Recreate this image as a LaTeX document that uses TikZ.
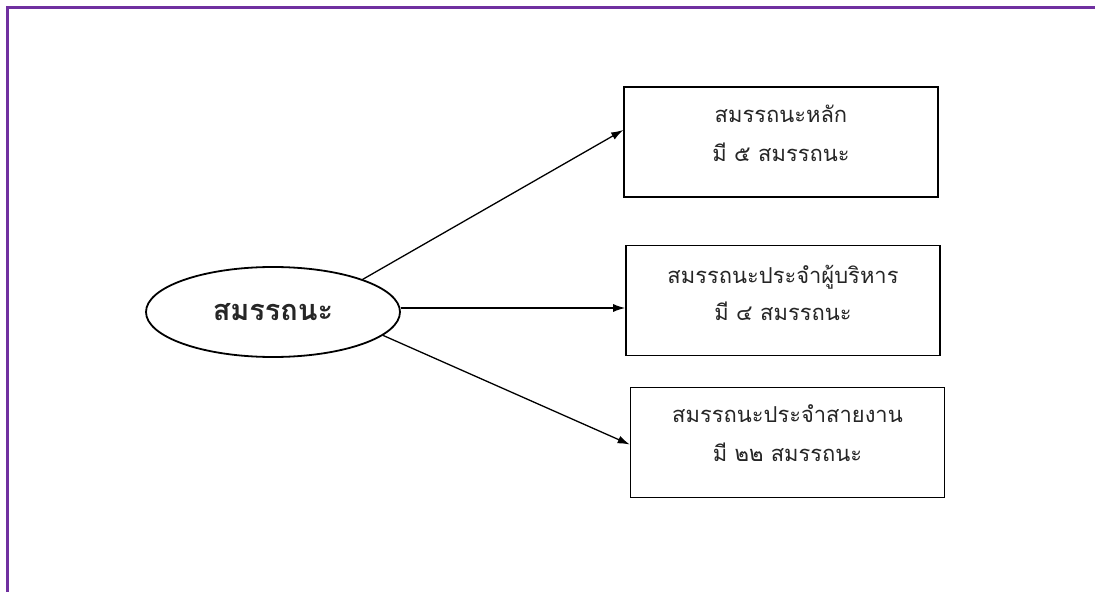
\documentclass[tikz,border=0pt]{standalone}
\usepackage{fontspec}
\newfontfamily\thaifont[Script=Thai]{Loma}
\usetikzlibrary{shapes.geometric,arrows.meta}
\definecolor{framepurple}{HTML}{7030A0}
\tikzset{
  box/.style={draw=black, line width=1.6bp, minimum width=314bp, minimum height=110bp, inner sep=0pt},
  boxtext/.style={inner sep=0pt, align=center, font=\thaifont\fontsize{22}{39}\selectfont, text=black!85},
  conn/.style={line width=1.3bp, -{Latex[length=12bp,width=8bp]}},
}
\begin{document}
\begin{tikzpicture}[x=1bp,y=-1bp]
\path[use as bounding box, fill=white] (0,0) rectangle (1095,592);
\draw[framepurple, line width=3bp] (7,592) -- (7,8) -- (1095,8);
\node[ellipse, draw=black, line width=1.8bp, minimum width=254bp, minimum height=90bp, inner sep=0pt, font=\thaifont\bfseries\fontsize{29}{32}\selectfont, text=black!85] (root) at (273,312) {สมรรถนะ};
\node[box] (b1) at (781,142) {};
\node[box] (b2) at (783,300.5) {};
\node[box] (b3) at (787.5,442.5) {};
\node[boxtext] (t1) at ([yshift=9bp]b1.center) {สมรรถนะหลัก\\มี ๕ สมรรถนะ};
\node[boxtext, font=\thaifont\fontsize{22}{37}\selectfont] (t2) at ([yshift=8bp]b2.center) {สมรรถนะประจำผู้บริหาร\\มี ๔ สมรรถนะ};
\node[boxtext] (t3) at ([yshift=9bp]b3.center) {สมรรถนะประจำสายงาน\\มี ๒๒ สมรรถนะ};
\draw[conn] (root.20) -- ([yshift=12bp]b1.west);
\draw[conn] (root.east |- 0,308) -- (b2.west |- 0,308);
\draw[conn] (root.-12) -- ([yshift=-2bp]b3.west);
\end{tikzpicture}
\end{document}
